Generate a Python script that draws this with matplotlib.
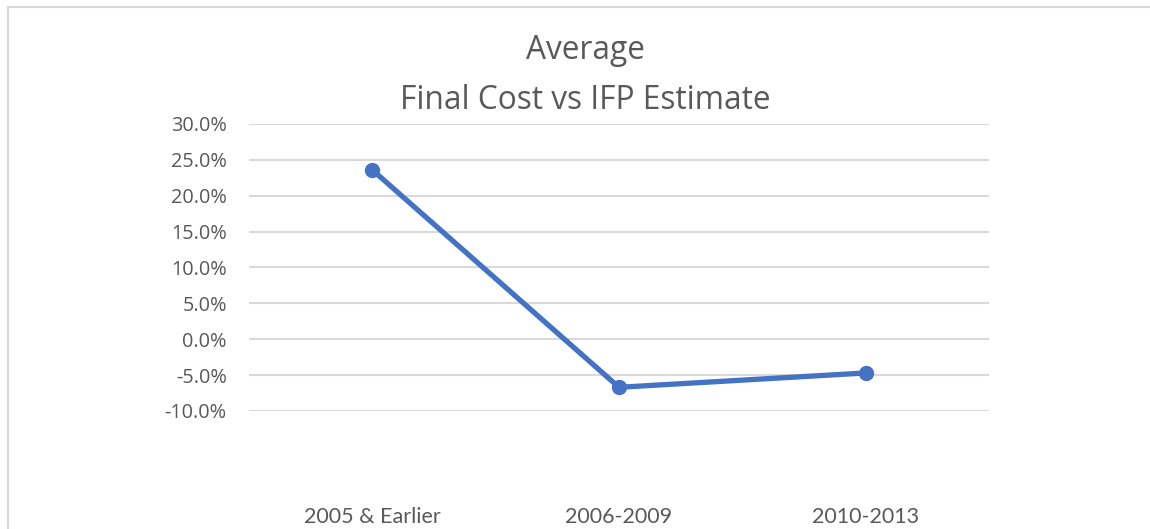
import matplotlib
matplotlib.use("Agg")
import matplotlib.pyplot as plt
from matplotlib.patches import Rectangle
from matplotlib.ticker import FuncFormatter

# データ
categories = ["2005 & Earlier", "2006-2009", "2010-2013"]
values = [23.6, -6.7, -4.7]  # %
y_ticks = [-10, -5, 0, 5, 10, 15, 20, 25, 30]

fig = plt.figure(figsize=(11.5, 5.29), dpi=100)
ax = fig.add_axes([0.2165, 0.2231, 0.6435, 0.5425])

# グラフ外枠
fig.patches.append(Rectangle((0.007, -0.1), 1.2, 1.087, transform=fig.transFigure,
                             fill=False, edgecolor="#D9D9D9", linewidth=1.5))

x = range(len(categories))
ax.plot(x, values, color="#4472C4", linewidth=3.8, marker="o", markersize=10,
        solid_capstyle="round", zorder=3)

ax.set_xlim(-0.5, len(categories) - 0.5)
ax.set_ylim(-10, 30)
ax.set_yticks(y_ticks)
ax.yaxis.set_major_formatter(FuncFormatter(lambda v, p: f"{v:.1f}%"))
ax.grid(axis="y", color="#D9D9D9", linewidth=1.5)
ax.set_axisbelow(True)

for s in ax.spines.values():
    s.set_visible(False)
ax.tick_params(axis="both", length=0)
ax.tick_params(axis="y", pad=16, labelsize=14.3, labelcolor="#595959")
ax.set_xticks(list(x))
ax.set_xticklabels(categories, fontsize=15.5, color="#595959", family="Lato")
ax.tick_params(axis="x", pad=69)
for lbl in ax.get_yticklabels():
    lbl.set_family("Open Sans")

fig.text(0.509, 0.858, "Average\nFinal Cost vs IFP Estimate", ha="center", va="center",
         fontsize=22.8, color="#595959", family="Open Sans", linespacing=1.68)

fig.savefig("out.png", dpi=100)
